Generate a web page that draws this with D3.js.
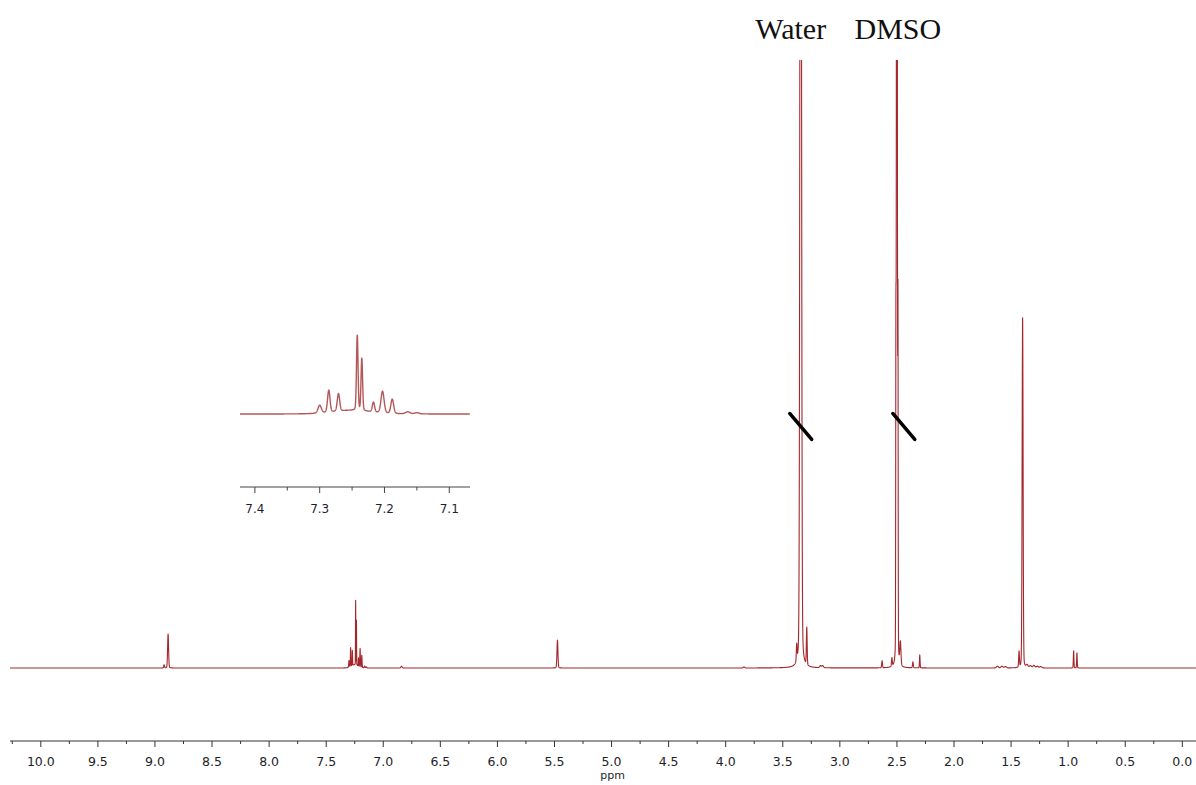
<!DOCTYPE html>
<html>
<head>
<meta charset="utf-8">
<script src="https://cdn.jsdelivr.net/npm/d3@7/dist/d3.min.js"></script>
<style>
  html, body { margin: 0; padding: 0; background: #fff; }
  svg { display: block; }
</style>
</head>
<body>
<svg id="chart" width="1196" height="785"></svg>
<script>
// 1H NMR peak list: chemical shift (ppm), height (intensity units), half-width (ppm)
const peakShifts = [
  8.920, 8.885, 6.840, 5.474,
  7.300, 7.286, 7.271, 7.242, 7.235, 7.217, 7.203, 7.188, 7.164, 7.150, 7.250,
  3.840, 3.378, 3.343, 3.290, 3.170, 3.150,
  2.630, 2.544, 2.509, 2.5005, 2.491, 2.470, 2.360, 2.300,
  1.620, 1.580, 1.550, 1.430, 1.399, 1.360, 1.330, 1.300, 1.270, 1.240,
  0.952, 0.923
];
const peakHeights = [
  0.9, 9.7, 0.5, 8.0,
  1.9, 5.4, 4.3, 18.4, 12.8, 2.4, 5.3, 3.5, 0.5, 0.3, 0.9,
  0.3, 4.8, 400, 10.7, 0.6, 0.6,
  2.0, 2.4, 80, 400, 95, 6.6, 1.7, 3.7,
  0.5, 0.5, 0.4, 4.5, 100, 0.8, 0.6, 0.7, 0.5, 0.4,
  4.9, 4.3
];
const peakWidths = [
  0.004, 0.005, 0.006, 0.005,
  0.003, 0.0022, 0.0022, 0.0014, 0.0014, 0.002, 0.0028, 0.0025, 0.004, 0.004, 0.035,
  0.006, 0.004, 0.007, 0.004, 0.008, 0.008,
  0.004, 0.004, 0.002, 0.004, 0.002, 0.006, 0.004, 0.003,
  0.01, 0.01, 0.01, 0.004, 0.005, 0.01, 0.01, 0.01, 0.01, 0.01,
  0.003, 0.003
];

// Solvent annotations
const solventLabels = ["Water", "DMSO"];
const solventShifts = [3.343, 2.5005];
// Axis-break marks on the truncated solvent peaks (ppm, intensity)
const breakShifts = [3.343, 2.44];
const breakLevel = 69;

// Axis ticks
const mainMajorTicks = [10.0, 9.5, 9.0, 8.5, 8.0, 7.5, 7.0, 6.5, 6.0, 5.5, 5.0, 4.5, 4.0, 3.5, 3.0, 2.5, 2.0, 1.5, 1.0, 0.5, 0.0];
const mainMinorTicks = [10.25, 9.75, 9.25, 8.75, 8.25, 7.75, 7.25, 6.75, 6.25, 5.75, 5.25, 4.75, 4.25, 3.75, 3.25, 2.75, 2.25, 1.75, 1.25, 0.75, 0.25];
const insetMajorTicks = [7.4, 7.3, 7.2, 7.1];
const insetMinorTicks = [7.35, 7.25, 7.15];

const mainDomain = [10.27, -0.12];
const insetDomain = [7.423, 7.068];

const ETA = 0.15; // Lorentzian fraction of the pseudo-Voigt line shape
const LN2 = Math.LN2;

function intensity(ppm) {
  let s = 0;
  for (let i = 0; i < peakShifts.length; i++) {
    const r = (ppm - peakShifts[i]) / peakWidths[i];
    const r2 = r * r;
    s += peakHeights[i] * (ETA / (1 + r2) + (1 - ETA) * Math.exp(-LN2 * r2));
  }
  return s;
}

function sampleSpectrum(from, to, step) {
  const xs = [];
  for (let p = from; p >= to; p -= step) xs.push(p);
  peakShifts.forEach(p => { if (p <= from && p >= to) xs.push(p); });
  xs.sort((a, b) => b - a);
  return xs.map(p => [p, intensity(p)]);
}

const svg = d3.select("#chart");
const W = 1196;

// ---- Main spectrum ----
const x = d3.scaleLinear().domain(mainDomain).range([10, 1196]);
const y = d3.scaleLinear().domain([0, 173.7]).range([668, 60]);

svg.append("defs").append("clipPath").attr("id", "plotClip")
  .append("rect").attr("x", 0).attr("y", 60).attr("width", W).attr("height", 700);

const mainData = sampleSpectrum(mainDomain[0], mainDomain[1], 0.0008);
const line = d3.line().x(d => x(d[0])).y(d => y(d[1]));

svg.append("path")
  .datum(mainData)
  .attr("clip-path", "url(#plotClip)")
  .attr("d", line)
  .attr("fill", "none")
  .attr("stroke", "#a3272b")
  .attr("stroke-width", 1.1)
  .attr("stroke-linejoin", "round");

// Main axis
const axisY = 741;
const axisG = svg.append("g").attr("class", "x-axis");
axisG.append("line")
  .attr("x1", 10).attr("x2", 1196)
  .attr("y1", axisY).attr("y2", axisY)
  .attr("stroke", "#333").attr("stroke-width", 1);
axisG.selectAll("line.major").data(mainMajorTicks).enter().append("line")
  .attr("class", "major")
  .attr("x1", d => x(d)).attr("x2", d => x(d))
  .attr("y1", axisY).attr("y2", axisY + 6)
  .attr("stroke", "#333");
axisG.selectAll("line.minor").data(mainMinorTicks).enter().append("line")
  .attr("class", "minor")
  .attr("x1", d => x(d)).attr("x2", d => x(d))
  .attr("y1", axisY).attr("y2", axisY + 3)
  .attr("stroke", "#333");
axisG.selectAll("text.tick").data(mainMajorTicks).enter().append("text")
  .attr("class", "tick")
  .attr("x", d => x(d))
  .attr("y", axisY + 25)
  .attr("text-anchor", "middle")
  .attr("font-family", "DejaVu Sans, Verdana, sans-serif")
  .attr("font-size", 12.5)
  .attr("fill", "#1e1e28")
  .text(d => d3.format(".1f")(d));
axisG.append("text")
  .attr("x", x(5.0) + 1)
  .attr("y", axisY + 38)
  .attr("text-anchor", "middle")
  .attr("font-family", "DejaVu Sans, Verdana, sans-serif")
  .attr("font-size", 11)
  .attr("fill", "#1e1e28")
  .text("ppm");

// Solvent labels
svg.selectAll("text.solvent").data(solventLabels).enter().append("text")
  .attr("class", "solvent")
  .attr("x", (d, i) => x(solventShifts[i]) + (i === 0 ? -10 : 1))
  .attr("y", 39)
  .attr("text-anchor", "middle")
  .attr("font-family", "Liberation Serif, Times New Roman, serif")
  .attr("font-size", 30)
  .attr("fill", "#111")
  .text(d => d);

// Break marks
svg.selectAll("line.break").data(breakShifts).enter().append("line")
  .attr("class", "break")
  .attr("x1", d => x(d) - 11).attr("y1", y(breakLevel) - 13)
  .attr("x2", d => x(d) + 11).attr("y2", y(breakLevel) + 13)
  .attr("stroke", "#000")
  .attr("stroke-width", 3.5)
  .attr("stroke-linecap", "round");

// ---- Inset: aromatic region expansion ----
const xi = d3.scaleLinear().domain(insetDomain).range([240, 470]);
const yi = d3.scaleLinear().domain([0, 20]).range([414, 332.5]);
const insetData = sampleSpectrum(insetDomain[0], insetDomain[1], 0.0002);
const insetLine = d3.line().x(d => xi(d[0])).y(d => yi(d[1]));

svg.append("path")
  .datum(insetData)
  .attr("d", insetLine)
  .attr("fill", "none")
  .attr("stroke", "#a83a3c")
  .attr("stroke-width", 1.4)
  .attr("stroke-opacity", 0.85)
  .attr("stroke-linejoin", "round");

const insetAxisY = 487;
const insetG = svg.append("g").attr("class", "inset-axis");
insetG.append("line")
  .attr("x1", 240).attr("x2", 470)
  .attr("y1", insetAxisY).attr("y2", insetAxisY)
  .attr("stroke", "#444").attr("stroke-width", 1);
insetG.selectAll("line.major").data(insetMajorTicks).enter().append("line")
  .attr("class", "major")
  .attr("x1", d => xi(d)).attr("x2", d => xi(d))
  .attr("y1", insetAxisY).attr("y2", insetAxisY + 6)
  .attr("stroke", "#444");
insetG.selectAll("line.minor").data(insetMinorTicks).enter().append("line")
  .attr("class", "minor")
  .attr("x1", d => xi(d)).attr("x2", d => xi(d))
  .attr("y1", insetAxisY).attr("y2", insetAxisY + 3.5)
  .attr("stroke", "#444");
insetG.selectAll("text.tick").data(insetMajorTicks).enter().append("text")
  .attr("class", "tick")
  .attr("x", d => xi(d))
  .attr("y", insetAxisY + 26)
  .attr("text-anchor", "middle")
  .attr("font-family", "DejaVu Sans, Verdana, sans-serif")
  .attr("font-size", 12)
  .attr("fill", "#1e1e30")
  .text(d => d3.format(".1f")(d));
</script>
</body>
</html>
